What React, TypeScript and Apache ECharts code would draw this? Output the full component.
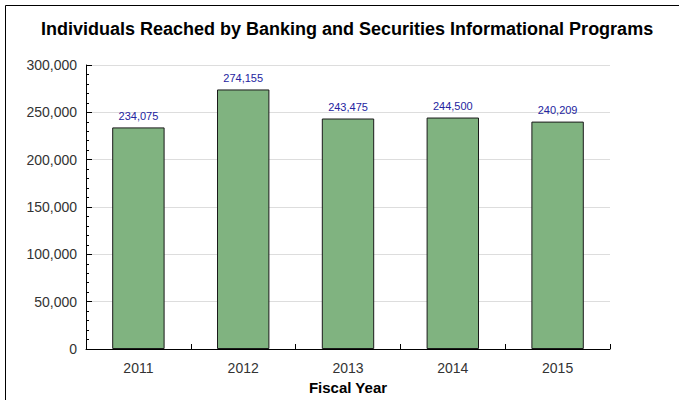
import React, { useEffect, useRef } from "react";
import * as echarts from "echarts";

const categories = ["2011", "2012", "2013", "2014", "2015"];
const values = [234075, 274155, 243475, 244500, 240209];
const titleText = "Individuals Reached by Banking and Securities Informational Programs";
const xAxisName = "Fiscal Year";

const fmt = (v: number) => v.toLocaleString("en-US");

export default function App() {
  const ref = useRef<HTMLDivElement>(null);
  useEffect(() => {
    document.body.style.margin = "0";
    const chart = echarts.init(ref.current!, null, { renderer: "svg" });
    chart.setOption({
      animation: false,
      backgroundColor: "#ffffff",
      textStyle: { fontFamily: "Liberation Sans, Arial, sans-serif" },
      title: {
        text: titleText,
        left: 36,
        top: 15,
        textStyle: { fontSize: 18, fontWeight: "bold", color: "#000", fontFamily: "Liberation Sans, Arial, sans-serif" },
      },
      graphic: [
        {
          type: "rect",
          shape: { x: 5.5, y: 5.5, width: 720, height: 420 },
          style: { fill: "none", stroke: "#000", lineWidth: 1 },
          silent: true,
        },
      ],
      grid: { left: 86, right: 69, top: 65, bottom: 50, containLabel: false },
      xAxis: {
        type: "category",
        data: categories,
        name: xAxisName,
        nameLocation: "middle",
        nameGap: 31,
        nameTextStyle: { fontSize: 15, fontWeight: "bold", color: "#000" },
        axisLine: { lineStyle: { color: "#000", width: 1 } },
        axisTick: { show: true, inside: true, length: 5, lineStyle: { color: "#000" }, alignWithLabel: false },
        axisLabel: { fontSize: 14, color: "#333", margin: 12 },
        splitLine: { show: false },
      },
      yAxis: {
        type: "value",
        min: 0,
        max: 300000,
        interval: 50000,
        axisLine: { show: true, lineStyle: { color: "#000", width: 1 } },
        axisTick: { show: true, inside: true, length: 6, lineStyle: { color: "#000" } },
        minorTick: { show: true, splitNumber: 5, length: 3, lineStyle: { color: "#000" } },
        axisLabel: { fontSize: 14, color: "#333", margin: 9, formatter: (v: number) => fmt(v) },
        splitLine: { show: true, lineStyle: { color: "#dddddd", width: 1 } },
      },
      series: [
        {
          type: "bar",
          data: values,
          barWidth: "50%",
          itemStyle: { color: "#80b380", borderColor: "#1a1a1a", borderWidth: 1 },
          label: {
            show: true,
            position: "top",
            distance: 6,
            fontSize: 11,
            color: "#2424a0",
            formatter: (p: any) => fmt(p.value),
          },
        },
      ],
    });
    return () => chart.dispose();
  }, []);
  return <div ref={ref} style={{ position: "fixed", left: 0, top: 0, width: 679, height: 400 }} />;
}
